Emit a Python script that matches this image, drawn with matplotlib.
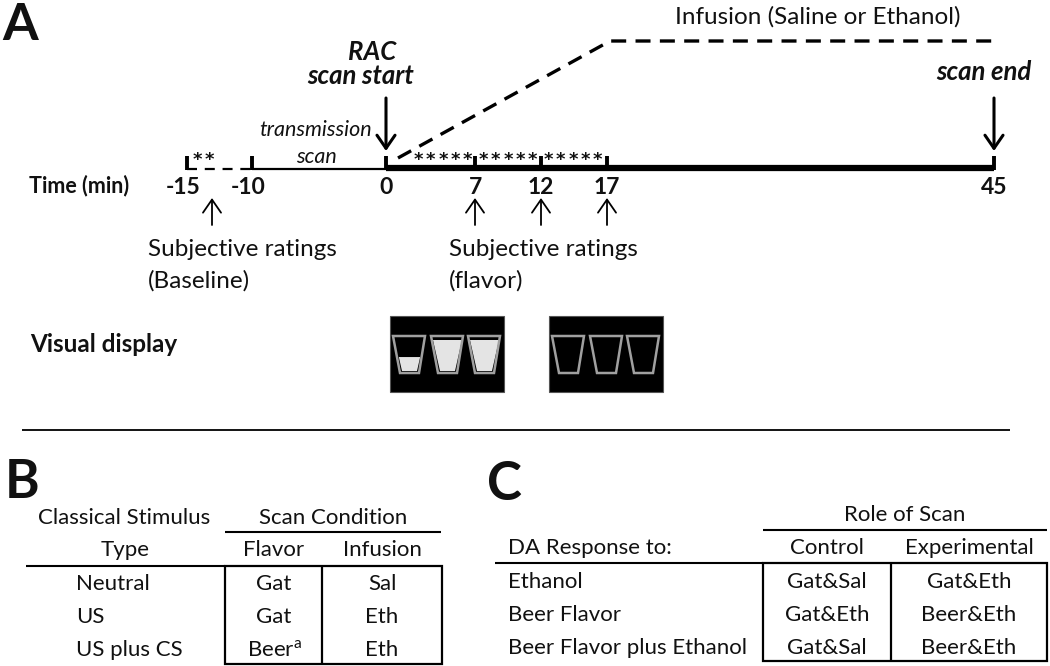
# Study timeline (A) and the two scan condition tables (B, C)
import matplotlib
matplotlib.use("Agg")
import matplotlib.pyplot as plt
from matplotlib.patches import Polygon, Rectangle

plt.rcParams['font.family'] = ['Lato', 'DejaVu Sans']

# timeline
tick_minutes = ["-15", "-10", "0", "7", "12", "17", "45"]
tick_x = [187, 252, 386, 475, 541, 607, 994]
rating_arrow_x = [212, 475, 541, 607]
infusion_x = [398, 610, 994]
infusion_y = [158, 41, 41]

# cup fill level, 0 means empty
display_left = [390, 549]
cup_fill = [[0.45, 1, 1], [0, 0, 0]]

# table B
b_rows = ["Neutral", "US", "US plus CS"]
b_flavor = ["Gat", "Gat", "Beer$^{\\mathregular{a}}$"]
b_infusion = ["Sal", "Eth", "Eth"]

# table C
c_rows = ["Ethanol", "Beer Flavor", "Beer Flavor plus Ethanol"]
c_control = ["Gat&Sal", "Gat&Eth", "Gat&Sal"]
c_experimental = ["Gat&Eth", "Beer&Eth", "Beer&Eth"]

fig = plt.figure(figsize=(10.5, 6.66), dpi=100)
ax = fig.add_axes([0, 0, 1, 1])
ax.set_xlim(0, 1050)
ax.set_ylim(666, 0)
ax.axis("off")

FS = 17.5     # panel A text
TS = 16       # table text
INK = "#111111"


def label(x, y, s, ha="center", size=FS, **kw):
    # va=center sits a bit high for this font, hence the nudge
    ax.text(x, y + 2, s, ha=ha, va="center", fontsize=size, color=INK, **kw)


def line(xs, ys, lw=1.5, **kw):
    ax.plot(xs, ys, color="black", lw=lw, solid_capstyle="butt", **kw)


def arrow(x, y0, y1, lw, head):
    ax.annotate("", xy=(x, y1), xytext=(x, y0),
                arrowprops=dict(arrowstyle="->,head_width=%g,head_length=%g" % (head, head * 1.45),
                                lw=lw, color="black", shrinkA=0, shrinkB=0))


# panel letters
label(2, 23, "A", ha="left", size=37, fontweight="bold")
label(5, 481, "B", ha="left", size=38, fontweight="bold")
label(487, 482, "C", ha="left", size=38, fontweight="bold")

# panel A
line([tick_x[0], tick_x[1]], [169, 169], lw=1.6, linestyle=(0, (4.5, 3.5)))
line([tick_x[1], tick_x[2]], [169, 169], lw=1.6)
line([tick_x[2], tick_x[6]], [167.5, 167.5], lw=4.5)
for x in tick_x:
    line([x, x], [156, 170], lw=2.8)
for x, m in zip(tick_x, tick_minutes):
    label(x + (-4 if x < 300 else 0), 185, m, size=16.5, fontweight="bold")
label(29, 184, "Time (min)", ha="left", size=15.5, fontweight="bold")

line(infusion_x, infusion_y, lw=2.4, linestyle=(0, (4.5, 2.8)))
label(818, 15, "Infusion (Saline or Ethanol)")

label(372, 50, "RAC", size=18.5, style="italic", fontweight="bold")
label(361, 74, "scan start", size=18.5, style="italic", fontweight="bold")
label(984, 70, "scan end", size=18.5, style="italic", fontweight="bold")
arrow(386, 98, 151, 2.2, 0.65)
arrow(994, 98, 151, 2.2, 0.65)
label(316, 128, "transmission", style="italic", size=15.5)
label(316, 155, "scan", style="italic", size=15.5)

# asterisks between the ticks
for x, n in [(203, 2), (443, 5), (508, 5), (573, 5)]:
    for i in range(n):
        ax.text(x + (i - (n - 1) / 2) * 12.2, 160, "*", ha="center", va="center",
                fontsize=13, fontweight="bold", family="DejaVu Sans", color=INK)

for x in rating_arrow_x:
    arrow(x, 225, 198, 1.3, 0.65)
label(148, 247, "Subjective ratings", ha="left")
label(148, 279, "(Baseline)", ha="left")
label(449, 247, "Subjective ratings", ha="left")
label(449, 279, "(flavor)", ha="left")
label(30, 343, "Visual display", ha="left", fontweight="bold")

# cups on the black display panels
cup_offset = [3, 41, 78]
for left, fills in zip(display_left, cup_fill):
    ax.add_patch(Rectangle((left, 316), 114, 76, fc="black", ec="#555555", lw=0.8))
    for off, fill in zip(cup_offset, fills):
        x0 = left + off
        if fill:
            top = 371 - 31 * fill
            inset = 7 * (371 - top) / 31
            ax.add_patch(Polygon([(x0 + 9 - inset, top), (x0 + 24 + inset, top),
                                  (x0 + 24, 371), (x0 + 9, 371)], fc="#e4e4e4", ec="none"))
        ax.add_patch(Polygon([(x0, 336), (x0 + 32, 336), (x0 + 26, 373), (x0 + 7, 373)],
                             fc="none", ec="#a0a0a0", lw=1.8))

line([22, 1010], [430, 430], lw=1.3)

# panel B
label(124, 516, "Classical Stimulus", size=TS)
label(333, 516, "Scan Condition", size=TS)
label(125, 548, "Type", size=TS)
label(274, 548, "Flavor", size=TS)
label(382, 548, "Infusion", size=TS)
line([225, 441], [531.5, 531.5])
line([26, 225], [566, 566])
ax.add_patch(Rectangle((224.5, 566), 217, 98, fc="none", ec="black", lw=1.6))
line([322, 322], [566, 664], lw=1.6)
row_y = [582, 615, 648]
for y, a, b, c in zip(row_y, b_rows, b_flavor, b_infusion):
    label(76, y, a, ha="left", size=TS)
    label(274, y, b, size=TS)
    label(382, y, c, size=TS)

# panel C
label(905, 513, "Role of Scan", size=TS)
label(508, 546, "DA Response to:", ha="left", size=TS)
label(827, 546, "Control", size=TS)
label(969, 546, "Experimental", size=TS)
line([763, 1047], [530, 530])
line([495, 763], [563, 563])
ax.add_patch(Rectangle((763, 563), 284, 98, fc="none", ec="black", lw=1.6))
line([891, 891], [563, 661], lw=1.6)
row_y = [580, 613, 646]
for y, a, b, c in zip(row_y, c_rows, c_control, c_experimental):
    label(508, y, a, ha="left", size=TS)
    label(827, y, b, size=TS)
    label(969, y, c, size=TS)

fig.savefig("out.png", dpi=100)
